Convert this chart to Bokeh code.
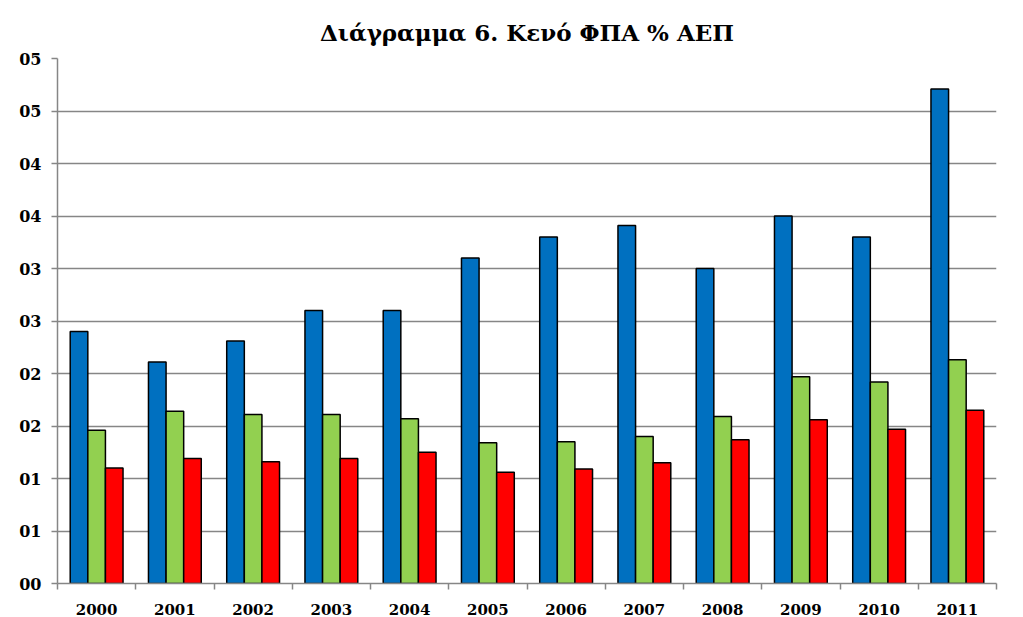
from bokeh.plotting import figure
from bokeh.models import ColumnDataSource, FixedTicker, Range1d
from bokeh.transform import dodge
from bokeh.embed import file_html
from bokeh.resources import INLINE

years = ["2000", "2001", "2002", "2003", "2004", "2005", "2006", "2007", "2008", "2009", "2010", "2011"]
blue = [2.40, 2.11, 2.31, 2.60, 2.60, 3.10, 3.30, 3.41, 3.00, 3.50, 3.30, 4.71]
green = [1.46, 1.64, 1.61, 1.61, 1.57, 1.34, 1.35, 1.40, 1.59, 1.97, 1.92, 2.13]
red = [1.10, 1.19, 1.16, 1.19, 1.25, 1.06, 1.09, 1.15, 1.37, 1.56, 1.47, 1.65]
y_ticks = [0, 0.5, 1, 1.5, 2, 2.5, 3, 3.5, 4, 4.5, 5]
y_tick_labels = ["00", "01", "01", "02", "02", "03", "03", "04", "04", "05", "05"]
title_text = "Διάγραμμα 6. Κενό ΦΠΑ % ΑΕΠ"

xpos = [i + 0.5 for i in range(len(years))]
src = ColumnDataSource(dict(x=xpos, blue=blue, green=green, red=red))

FONT = "DejaVu Serif"

p = figure(width=1015, height=617, output_backend="svg", toolbar_location=None,
           x_range=Range1d(0, 12), y_range=Range1d(0, 5),
           min_border_left=57, min_border_right=19, min_border_top=58, min_border_bottom=32,
           title=title_text)
p.title.text_font = FONT
p.title.text_font_size = "23px"
p.title.text_font_style = "bold"
p.title.align = "center"
p.title.text_color = "black"
p.title.vertical_align = "top"
p.title.standoff = 22

bw = 0.225
p.vbar(x=dodge("x", -bw, range=p.x_range), top="blue", width=bw, source=src,
       fill_color="#0070C0", line_color="black", line_width=1.5)
p.vbar(x="x", top="green", width=bw, source=src,
       fill_color="#92D050", line_color="black", line_width=1.5)
p.vbar(x=dodge("x", bw, range=p.x_range), top="red", width=bw, source=src,
       fill_color="#FF0000", line_color="black", line_width=1.5)

# x axis: labels at category centres, tick marks at boundaries
p.xaxis.ticker = FixedTicker(ticks=xpos, minor_ticks=list(range(len(years) + 1)))
p.xaxis.major_label_overrides = {x: y for x, y in zip(xpos, years)}
p.xaxis.major_tick_out = 0
p.xaxis.major_tick_in = 0
p.xaxis.minor_tick_out = 6
p.xaxis.minor_tick_in = 0
p.xaxis.minor_tick_line_color = "#868686"
p.xaxis.minor_tick_line_width = 1.5
p.xaxis.axis_line_color = "#868686"
p.xaxis.axis_line_width = 1.5
p.xaxis.major_label_text_font = FONT
p.xaxis.major_label_text_font_style = "bold"
p.xaxis.major_label_text_font_size = "15px"
p.xaxis.major_label_text_color = "black"
p.xaxis.major_label_standoff = 14

p.yaxis.ticker = FixedTicker(ticks=y_ticks, minor_ticks=[])
p.yaxis.major_label_overrides = {t: l for t, l in zip(y_ticks, y_tick_labels)}
p.yaxis.major_tick_out = 6
p.yaxis.major_tick_in = 0
p.yaxis.major_tick_line_color = "#868686"
p.yaxis.major_tick_line_width = 1.5
p.yaxis.axis_line_color = "#868686"
p.yaxis.axis_line_width = 1.5
p.yaxis.major_label_text_font = FONT
p.yaxis.major_label_text_font_style = "bold"
p.yaxis.major_label_text_font_size = "16px"
p.yaxis.major_label_text_color = "black"
p.yaxis.major_label_standoff = 10

p.xgrid.grid_line_color = None
p.ygrid.ticker = FixedTicker(ticks=y_ticks)
p.ygrid.grid_line_color = "#868686"
p.ygrid.grid_line_width = 1.5
p.outline_line_color = None
p.background_fill_color = "white"
p.border_fill_color = "white"

open("out.html", "w").write(file_html(p, INLINE))
